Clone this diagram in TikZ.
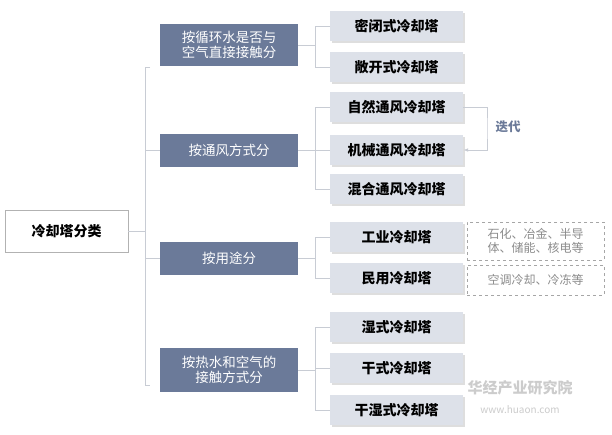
\documentclass[tikz,border=0pt]{standalone}
\usepackage{fontspec}
\setmainfont{Noto Sans CJK SC}
\usetikzlibrary{arrows.meta,shadows}
\definecolor{cat}{HTML}{6B7A99}
\definecolor{leaf}{HTML}{DDE1E9}
\definecolor{ln}{HTML}{C8CCD4}
\begin{document}
\begin{tikzpicture}[x=1pt,y=-1pt,
 catbox/.style={fill=cat,text=white,minimum width=138pt,align=center,font=\fontsize{13.5}{15.5}\selectfont,inner sep=2pt},
 leafbox/.style={fill=leaf,minimum width=133pt,minimum height=30pt,font=\bfseries\fontsize{14}{16}\selectfont,drop shadow={shadow xshift=2pt,shadow yshift=-2pt,fill=black!25}},
 notebox/.style={draw=gray!70,dashed,text=gray!90,align=left,font=\fontsize{12}{14.5}\selectfont,minimum width=137pt,inner sep=2pt},
 conn/.style={draw=ln,line width=1pt}]
\useasboundingbox (0,0) rectangle (612,434);
\fill[white] (0,0) rectangle (612,434);
\node[draw=gray!60,fill=white,minimum width=123pt,minimum height=42pt,font=\bfseries\fontsize{14}{16}\selectfont] (root) at (66.5,231) {冷却塔分类};
\node[catbox,minimum height=42pt] (c1) at (229,45) {按循环水是否与\\空气直接接触分};
\node[catbox,minimum height=33pt] (c2) at (229,150) {按通风方式分};
\node[catbox,minimum height=33pt] (c3) at (229,258) {按用途分};
\node[catbox,minimum height=44pt] (c4) at (229,370) {按热水和空气的\\接触方式分};
\foreach \n/\y/\t in {l1/26/密闭式冷却塔,l2/67/敞开式冷却塔,l3/107/自然通风冷却塔,l4/150/机械通风冷却塔,l5/189/混合通风冷却塔,l6/237/工业冷却塔,l7/278/民用冷却塔,l8/327/湿式冷却塔,l9/368/干式冷却塔,l10/410/干湿式冷却塔}
  \node[leafbox] (\n) at (396.5,\y) {\t};
\coordinate (bx) at (145,231);
\draw[conn] (root.east) -- (bx);
\draw[conn] (150,67) -- (145,67) -- (145,385) -- (150,385);
\draw[conn] (c2.west) -- (145,150);
\draw[conn] (c3.west) -- (145,258);
\foreach \c/\a/\b in {c1/l1/l2,c2/l3/l5,c3/l6/l7,c4/l8/l10}{
  \draw[conn] (\c.east) -- (315,0 |- \c.east);
  \draw[conn] (\a.west) -| (315,0 |- \a.west) |- (\b.west);
}
\draw[conn] (l4.west) -- (315,150);
\draw[conn] (l9.west) -- (315,368);
\draw[conn,-{Latex[length=5pt]}] (l3.east) -| (487,128) |- (l4.east);
\node[text=cat,font=\bfseries\fontsize{12.5}{14}\selectfont] (lab) at (508,127) {迭代};
\node[notebox,minimum height=38pt] (n1) at (535.5,241) {石化、冶金、半导\\体、储能、核电等};
\node[notebox,minimum height=30pt] (n2) at (535.5,280) {空调冷却、冷冻等};
\node[text=gray!40,font=\bfseries\fontsize{15}{17}\selectfont] (wm) at (520,388) {华经产业研究院};
\node[text=gray!40,font=\fontsize{10}{12}\selectfont] (wm2) at (520,410) {www.huaon.com};
\end{tikzpicture}
\end{document}
